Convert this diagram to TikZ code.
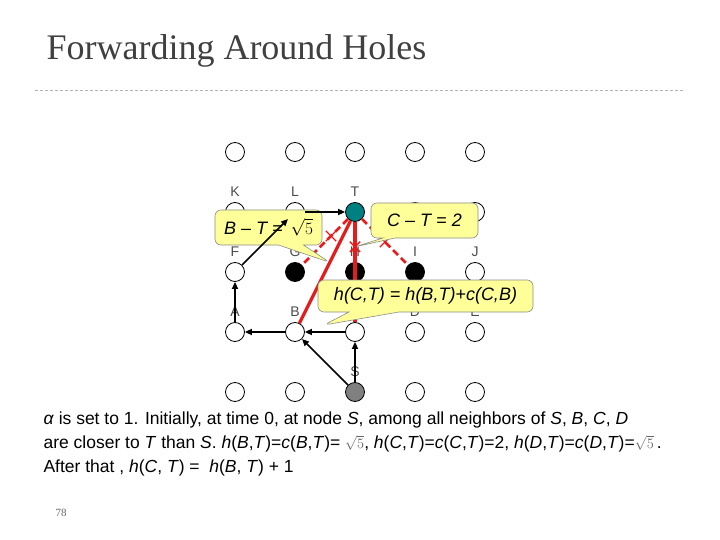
\documentclass[tikz,border=0pt]{standalone}
\usepackage{fontspec}
\setmainfont{Liberation Sans}
\newfontfamily\titlefont{Liberation Serif}
\usepackage{tikz}
\usetikzlibrary{positioning,arrows.meta,shapes.callouts,shapes.misc,calc}
\usepackage{xcolor}
\definecolor{DestTeal}{RGB}{0,128,128}
\definecolor{SrcGray}{RGB}{128,128,128}
\definecolor{RouteRed}{RGB}{228,28,28}
\definecolor{NoteYellow}{RGB}{255,255,153}
\definecolor{TitleGray}{RGB}{64,64,64}

\begin{document}
\begin{tikzpicture}[x=1pt, y=-1pt,
    node distance=60pt, on grid,
    site/.style={circle, draw=black, line width=0.8pt, fill=white, minimum size=19pt, inner sep=0pt},
    hole/.style={site, fill=black},
    dest/.style={site, fill=DestTeal},
    src/.style={site, fill=SrcGray},
    tag/.style={font=\fontsize{14}{14}\selectfont, text=black!70},
    hop/.style={-{Triangle[length=7pt,width=6pt]}, line width=1.6pt},
    route/.style={RouteRed, line width=3.2pt},
    blocked/.style={RouteRed, line width=2.6pt, dash pattern=on 7pt off 4pt},
    nope/.style={cross out, draw=RouteRed, line width=1.4pt, minimum size=9pt, inner sep=0pt},
    note/.style={rectangle callout, rounded corners=6pt, draw=black!45, fill=NoteYellow,
        line width=0.6pt, inner sep=0pt, font=\fontsize{18}{18}\selectfont\itshape},
]
\useasboundingbox (0,0) rectangle (720,540);

% title and rule
\node[anchor=base west, font=\titlefont\fontsize{36}{36}\selectfont, text=TitleGray] (title) at (43,60) {Forwarding Around Holes};
\draw[gray!60, line width=0.8pt, dash pattern=on 3pt off 2pt] (35,90) -- (685,90);

% grid of sensor nodes
\node[site] (K) at (235,212) {};
\node[site, right=of K] (L) {};
\node[dest, right=of L] (T) {};
\node[site, right=of T] (r2d) {};
\node[site, right=of r2d] (r2e) {};

\node[site, above=of K] (r1a) {};
\node[site, above=of L] (r1b) {};
\node[site, above=of T] (r1c) {};
\node[site, above=of r2d] (r1d) {};
\node[site, above=of r2e] (r1e) {};

\node[site, below=of K] (F) {};
\node[hole, below=of L] (G) {};
\node[hole, below=of T] (H) {};
\node[hole, below=of r2d] (I) {};
\node[site, below=of r2e] (J) {};

\node[site, below=of F] (A) {};
\node[site, below=of G] (B) {};
\node[site, below=of H] (C) {};
\node[site, below=of I] (D) {};
\node[site, below=of J] (E) {};

\node[site, below=of A] (r5a) {};
\node[site, below=of B] (r5b) {};
\node[src, below=of C] (S) {};
\node[site, below=of D] (r5d) {};
\node[site, below=of E] (r5e) {};

% node names
\node[tag, above=20pt of K] (tK) {K};
\node[tag, above=20pt of L] (tL) {L};
\node[tag, above=20pt of T] (tT) {T};
\node[tag, above=20pt of F] (tF) {F};
\node[tag, above=20pt of G] (tG) {G};
\node[tag, above=20pt of H] (tH) {H};
\node[tag, above=20pt of I] (tI) {I};
\node[tag, above=20pt of J] (tJ) {J};
\node[tag, above=20pt of A] (tA) {A};
\node[tag, above=20pt of B] (tB) {B};
\node[tag, above=20pt of C] (tC) {C};
\node[tag, above=20pt of D] (tD) {D};
\node[tag, above=20pt of E] (tE) {E};
\node[tag, above=20pt of S] (tS) {S};

% direct lines towards T
\draw[blocked] (T) -- (G);
\draw[blocked] (T) -- (I);
\draw[route] (T) -- (B);
\draw[route] (T) -- (C);
\node[nope] (xG) at ($(T)!0.4!(G)$) {};
\node[nope] (xH) at ($(T)!0.58!(H)$) {};
\node[nope] (xI) at ($(T)!0.5!(I)$) {};

% callouts
\coordinate (btTip) at ($(T)!0.42!(B)$);
\coordinate (ctTip) at ($(T)!0.29!(C)$);
\coordinate (hTip) at (324,325);
\node[note, minimum width=107pt, minimum height=35pt, callout pointer width=25pt,
    callout absolute pointer={(btTip)}] (btNote) at (268.5,227.5) {B -- T = \,$\sqrt{5}$};
\node[note, minimum width=107pt, minimum height=35pt, callout pointer width=12pt,
    callout absolute pointer={(ctTip)}] (ctNote) at (424.5,220.5) {C -- T = 2};
\node[note, minimum width=215pt, minimum height=32pt, callout pointer width=50pt,
    callout absolute pointer={(hTip)}] (hNote) at (425.5,296) {h(C,T) = h(B,T)+c(C,B)};

% forwarding path
\draw[hop] (S) -- (C);
\draw[hop] (S) -- (B);
\draw[hop] (C) -- (B);
\draw[hop] (B) -- (A);
\draw[hop] (A) -- (F);
\draw[hop] (F) -- (L);
\draw[hop] (L) -- (T);

% explanation
\node[anchor=north west, align=left, font=\fontsize{17.5}{24}\selectfont] (expl) at (40,408)
  {\textit{α} is set to 1. Initially, at time 0, at node \textit{S}, among all neighbors of \textit{S}, \textit{B}, \textit{C}, \textit{D}\\
   are closer to \textit{T} than \textit{S}. \textit{h}(\textit{B},\textit{T})=\textit{c}(\textit{B},\textit{T})= {\color{black!60}\fontsize{14}{14}\selectfont$\sqrt{5}$}, \textit{h}(\textit{C},\textit{T})=\textit{c}(\textit{C},\textit{T})=2, \textit{h}(\textit{D},\textit{T})=\textit{c}(\textit{D},\textit{T})={\color{black!60}\fontsize{14}{14}\selectfont$\sqrt{5}$}\,.\\
   After that , \textit{h}(\textit{C}, \textit{T}) = \ \textit{h}(\textit{B}, \textit{T}) + 1};

\node[font=\titlefont\fontsize{11}{11}\selectfont, text=black!60] (pageNo) at (61,513) {78};
\end{tikzpicture}
\end{document}
